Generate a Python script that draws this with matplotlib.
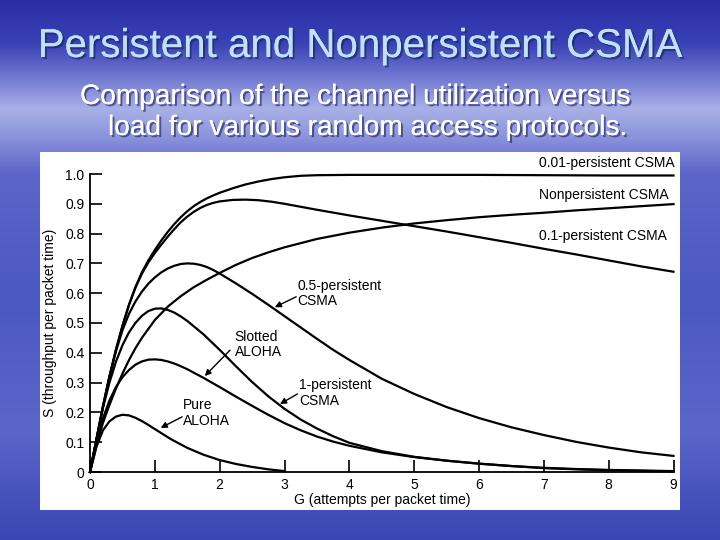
import numpy as np
import matplotlib
matplotlib.use("Agg")
import matplotlib.pyplot as plt
import matplotlib.patheffects as pe
from matplotlib.colors import LinearSegmentedColormap
from matplotlib.patches import Rectangle

plt.rcParams['font.family'] = ['Liberation Sans', 'DejaVu Sans']

# values (G = attempts, S = throughput)
g_pure = [0, 0.1, 0.2, 0.3, 0.4, 0.5, 0.6, 0.7, 0.8, 0.9, 1.0, 1.25, 1.5, 1.75, 2.0, 2.25, 2.5, 2.75, 3.0]
s_pure = [0, 0.085, 0.14, 0.17, 0.186, 0.192, 0.19, 0.182, 0.171, 0.158, 0.144, 0.11, 0.081, 0.058,
          0.04, 0.027, 0.017, 0.009, 0.003]

g_slotted = [0, 0.1, 0.2, 0.3, 0.4, 0.5, 0.6, 0.7, 0.8, 0.9, 1.0, 1.1, 1.2, 1.3, 1.4, 1.5, 1.75, 2.0,
             2.25, 2.5, 2.75, 3.0, 3.25, 3.5, 3.75, 4.0, 4.5, 5.0, 5.5, 6.0, 6.5, 7.0, 7.5, 8.0, 8.5, 9.0]
s_slotted = [0, 0.1, 0.18, 0.24, 0.285, 0.318, 0.342, 0.36, 0.371, 0.377, 0.378, 0.376, 0.371, 0.364,
             0.355, 0.345, 0.316, 0.285, 0.253, 0.222, 0.192, 0.164, 0.14, 0.119, 0.102, 0.088, 0.066,
             0.05, 0.038, 0.028, 0.02, 0.013, 0.009, 0.006, 0.004, 0.002]

g_p1 = [0, 0.1, 0.2, 0.3, 0.4, 0.5, 0.6, 0.7, 0.8, 0.9, 1.0, 1.1, 1.2, 1.3, 1.4, 1.5, 1.75, 2.0, 2.25,
        2.5, 2.75, 3.0, 3.25, 3.5, 3.75, 4.0, 4.5, 5.0, 5.5, 6.0, 6.5, 7.0, 7.5, 8.0, 8.5, 9.0]
s_p1 = [0, 0.11, 0.215, 0.3, 0.37, 0.425, 0.468, 0.5, 0.524, 0.54, 0.548, 0.549, 0.544, 0.535, 0.522,
        0.507, 0.462, 0.41, 0.355, 0.302, 0.254, 0.212, 0.176, 0.146, 0.12, 0.098, 0.07, 0.051, 0.038,
        0.028, 0.02, 0.014, 0.01, 0.007, 0.005, 0.003]

g_p05 = [0, 0.1, 0.2, 0.3, 0.4, 0.5, 0.6, 0.7, 0.8, 0.9, 1.0, 1.1, 1.2, 1.3, 1.4, 1.5, 1.6, 1.7, 1.8,
         1.9, 2.0, 2.25, 2.5, 2.75, 3.0, 3.25, 3.5, 3.75, 4.0, 4.5, 5.0, 5.5, 6.0, 6.5, 7.0, 7.5, 8.0,
         8.5, 9.0]
s_p05 = [0, 0.11, 0.22, 0.32, 0.405, 0.475, 0.53, 0.572, 0.605, 0.632, 0.653, 0.67, 0.683, 0.692,
         0.698, 0.70, 0.699, 0.695, 0.688, 0.678, 0.666, 0.633, 0.598, 0.561, 0.523, 0.485, 0.447, 0.41,
         0.376, 0.313, 0.262, 0.218, 0.181, 0.15, 0.124, 0.101, 0.082, 0.066, 0.054]

g_p001 = [0, 0.1, 0.2, 0.3, 0.4, 0.5, 0.6, 0.7, 0.8, 0.9, 1.0, 1.1, 1.2, 1.3, 1.4, 1.5, 1.6, 1.7, 1.8,
          1.9, 2.0, 2.2, 2.4, 2.6, 2.8, 3.0, 3.25, 3.5, 4.0, 5.0, 6.0, 7.0, 8.0, 9.0]
s_p001 = [0, 0.11, 0.22, 0.32, 0.41, 0.49, 0.56, 0.62, 0.67, 0.71, 0.745, 0.777, 0.806, 0.832, 0.855,
          0.875, 0.892, 0.906, 0.918, 0.928, 0.937, 0.952, 0.965, 0.975, 0.983, 0.989, 0.994, 0.996,
          0.997, 0.997, 0.997, 0.996, 0.995, 0.995]

g_p01 = [0, 0.1, 0.2, 0.3, 0.4, 0.5, 0.6, 0.7, 0.8, 0.9, 1.0, 1.1, 1.2, 1.3, 1.4, 1.5, 1.6, 1.7, 1.8,
         1.9, 2.0, 2.2, 2.4, 2.6, 2.8, 3.0, 3.25, 3.5, 4.0, 4.5, 5.0, 5.5, 6.0, 6.5, 7.0, 7.5, 8.0,
         8.5, 9.0]
s_p01 = [0, 0.11, 0.22, 0.32, 0.41, 0.49, 0.56, 0.618, 0.665, 0.703, 0.735, 0.763, 0.79, 0.815, 0.838,
         0.857, 0.873, 0.886, 0.896, 0.903, 0.908, 0.913, 0.914, 0.912, 0.907, 0.90, 0.89, 0.88, 0.861,
         0.843, 0.825, 0.807, 0.788, 0.769, 0.749, 0.73, 0.71, 0.69, 0.672]

g_nonp = [0, 0.1, 0.2, 0.3, 0.4, 0.5, 0.6, 0.7, 0.8, 0.9, 1.0, 1.2, 1.4, 1.6, 1.8, 2.0, 2.25, 2.5,
          2.75, 3.0, 3.5, 4.0, 4.5, 5.0, 5.5, 6.0, 6.5, 7.0, 7.5, 8.0, 8.5, 9.0]
s_nonp = [0, 0.09, 0.165, 0.225, 0.28, 0.33, 0.375, 0.415, 0.45, 0.48, 0.51, 0.555, 0.59, 0.62, 0.645,
          0.668, 0.695, 0.718, 0.737, 0.754, 0.782, 0.803, 0.82, 0.834, 0.845, 0.855, 0.863, 0.87,
          0.878, 0.885, 0.892, 0.899]

x_ticks = [0, 1, 2, 3, 4, 5, 6, 7, 8, 9]
y_ticks = [0, 0.1, 0.2, 0.3, 0.4, 0.5, 0.6, 0.7, 0.8, 0.9, 1.0]
y_ticklabels = ['0', '0.1', '0.2', '0.3', '0.4', '0.5', '0.6', '0.7', '0.8', '0.9', '1.0']

fig = plt.figure(figsize=(7.2, 5.4), dpi=100)

# slide background + white picture frame
bg = fig.add_axes([0, 0, 1, 1])
bg.set_axis_off()
cmap = LinearSegmentedColormap.from_list('slide', [
    (0.0, '#2a2ea4'), (0.08, '#3a42b6'), (0.15, '#7880d4'), (0.2, '#a9b0e6'),
    (0.25, '#8c95dc'), (0.32, '#5c66c9'), (0.55, '#4c58c2'), (0.8, '#5a66c8'), (1.0, '#3a46b4')])
bg.imshow(np.linspace(0, 1, 256).reshape(-1, 1), aspect='auto', cmap=cmap,
          extent=[0, 1, 0, 1], origin='upper')
bg.add_patch(Rectangle((40 / 720, 1 - 510 / 540), 640 / 720, 358 / 540,
                       facecolor='white', edgecolor='none', zorder=3))
bg.set_xlim(0, 1)
bg.set_ylim(0, 1)

shadow = [pe.withSimplePatchShadow(offset=(1.5, -1.5), shadow_rgbFace='#1a1d60', alpha=0.6), pe.Normal()]
fig.text(0.5, 1 - 46 / 540, 'Persistent and Nonpersistent CSMA', ha='center', va='center',
         fontsize=29, color='#bfe3ff', path_effects=shadow)
fig.text(80 / 720, 1 - 97 / 540, 'Comparison of the channel utilization versus', ha='left', va='center',
         fontsize=20.2, color='white', path_effects=shadow)
fig.text(108 / 720, 1 - 128 / 540, 'load for various random access protocols.', ha='left', va='center',
         fontsize=20.2, color='white', path_effects=shadow)

ax = fig.add_axes([90 / 720, 1 - 472 / 540, 583.5 / 720, 298 / 540])
ax.set_facecolor('none')
ax.set_xlim(0, 9)
ax.set_ylim(0, 1.0)
for s in ['top', 'right']:
    ax.spines[s].set_visible(False)
for s in ['left', 'bottom']:
    ax.spines[s].set_linewidth(1.3)

curves = [(g_pure, s_pure), (g_slotted, s_slotted), (g_p1, s_p1), (g_p05, s_p05),
          (g_p001, s_p001), (g_p01, s_p01), (g_nonp, s_nonp)]
for g, s in curves:
    ax.plot(g, s, color='black', lw=1.6, clip_on=False, solid_joinstyle='round')

ax.set_xticks(x_ticks)
ax.set_yticks(y_ticks)
ax.set_yticklabels(y_ticklabels)
ax.tick_params(direction='in', length=8.5, width=1.2, labelsize=10, pad=4)
ax.set_xlabel('G (attempts per packet time)', fontsize=10, labelpad=2)
ax.set_ylabel('S (throughput per packet time)', fontsize=10, labelpad=6)
ax.xaxis.set_label_coords(0.5, -0.07)

fs = 10
ax.text(6.92, 1.037, '0.01-persistent CSMA', fontsize=fs, va='center', clip_on=False)
ax.text(6.92, 0.93, 'Nonpersistent CSMA', fontsize=fs, va='center', clip_on=False)
ax.text(6.92, 0.792, '0.1-persistent CSMA', fontsize=fs, va='center', clip_on=False)
ax.text(3.2, 0.60, '0.5-persistent\nCSMA', fontsize=fs, va='center', linespacing=1.1)
ax.text(2.23, 0.428, 'Slotted\nALOHA', fontsize=fs, va='center', linespacing=1.1)
ax.text(3.22, 0.265, '1-persistent\nCSMA', fontsize=fs, va='center', linespacing=1.1)
ax.text(1.43, 0.198, 'Pure\nALOHA', fontsize=fs, va='center', linespacing=1.1)

arrow = dict(arrowstyle='-|>', color='black', lw=1.0, mutation_scale=9, shrinkA=0, shrinkB=0)
ax.annotate('', xy=(2.85, 0.553), xytext=(3.18, 0.588), arrowprops=arrow)
ax.annotate('', xy=(1.77, 0.322), xytext=(2.16, 0.409), arrowprops=arrow)
ax.annotate('', xy=(2.93, 0.228), xytext=(3.2, 0.262), arrowprops=arrow)
ax.annotate('', xy=(1.09, 0.148), xytext=(1.42, 0.185), arrowprops=arrow)

fig.savefig('out.png', dpi=100)
